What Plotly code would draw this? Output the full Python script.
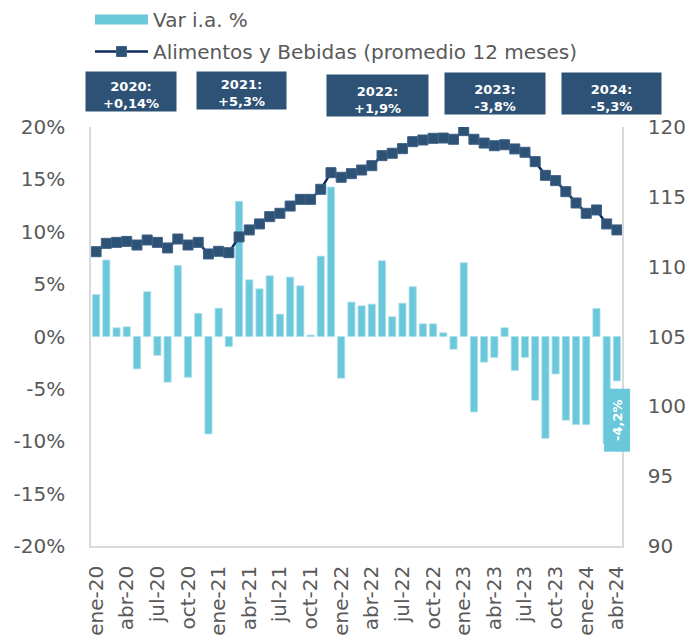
import plotly.graph_objects as go

month_names = ["ene", "feb", "mar", "abr", "may", "jun", "jul", "ago", "sep", "oct", "nov", "dic"]
years = ["20", "21", "22", "23", "24"]
months = [f"{m}-{y}" for y in years for m in month_names][:52]

var_ia = [4.0, 7.3, 0.83, 0.92, -3.09, 4.27, -1.8, -4.36, 6.78, -3.89, 2.2, -9.3,
          2.7, -0.96, 12.9, 5.41, 4.55, 5.8, 2.13, 5.67, 4.84, 0.13, 7.67, 14.27,
          -3.98, 3.28, 2.93, 3.09, 7.23, 1.88, 3.18, 4.75, 1.21, 1.21, 0.35, -1.21,
          7.04, -7.2, -2.45, -2.0, 0.83, -3.25, -2.0, -6.08, -9.71, -3.57, -7.99, -8.41,
          -8.41, 2.68, -10.2, -4.24]

alimentos = [111.07, 111.67, 111.74, 111.81, 111.55, 111.91, 111.74, 111.34, 111.98, 111.55, 111.74, 110.91,
             111.10, 111.00, 112.13, 112.63, 113.06, 113.58, 113.82, 114.34, 114.82, 114.82, 115.54, 116.73,
             116.40, 116.66, 116.92, 117.23, 117.95, 118.12, 118.45, 118.95, 119.07, 119.19, 119.21, 119.12,
             119.74, 119.12, 118.85, 118.66, 118.73, 118.43, 118.19, 117.52, 116.54, 116.16, 115.37, 114.56,
             113.82, 114.06, 113.06, 112.63]

x_tickvals = months[::3]
y_tickvals = [-20, -15, -10, -5, 0, 5, 10, 15, 20]
y_ticktext = ["-20%", "-15%", "-10%", "-5%", "0%", "5%", "10%", "15%", "20%"]
y2_tickvals = [90, 95, 100, 105, 110, 115, 120]

year_labels = ["2020:<br>+0,14%", "2021:<br>+5,3%", "2022:<br>+1,9%", "2023:<br>-3,8%", "2024:<br>-5,3%"]
last_label = "-4,2%"

BAR = "#6BC8DA"
BOX = "#2D5276"
LINE = "#0D2B5E"
GRAY = "#595959"
AXIS = "#D9D9D9"
FONT = "DejaVu Sans"

fig = go.Figure()
fig.add_trace(go.Bar(x=months, y=var_ia, name="Var i.a. %",
                     marker=dict(color=BAR, line=dict(color="#A9E0EB", width=0.8)),
                     showlegend=False))
# legend entry for the bars, drawn as a wide swatch
fig.add_trace(go.Scatter(x=[None], y=[None], name="Var i.a. %", mode="lines",
                         line=dict(color=BAR, width=14), legend="legend"))
fig.add_trace(go.Scatter(x=months, y=alimentos, name="Alimentos y Bebidas (promedio 12 meses)",
                         yaxis="y2", mode="lines+markers",
                         line=dict(color=LINE, width=2.5),
                         marker=dict(symbol="square", size=10, color=BOX,
                                     line=dict(color="#3E6286", width=1)),
                         legend="legend2"))

W, H = 685, 635
L, T = 91, 127
R = W - 622
B = H - 546
pw, ph = W - L - R, H - T - B

def px(xp):
    return (xp - L) / pw

def py(yp):
    return (H - B - yp) / ph

boxes = [(131, 91.5, 90, 39), (241, 90.5, 89, 37), (377.5, 95.5, 101, 41),
         (495, 93.5, 100, 41), (611.5, 93.5, 99, 41)]
annotations = []
for (cx, cy, w, h), txt in zip(boxes, year_labels):
    annotations.append(dict(
        text=f"<b>{txt}</b>", xref="paper", yref="paper", x=px(cx), y=py(cy),
        xanchor="center", yanchor="middle", showarrow=False,
        width=w, height=h, bgcolor=BOX, borderpad=0, valign="bottom",
        font=dict(family=FONT, size=13, color="white")))

annotations.append(dict(
    text=f"<b>{last_label}</b>", xref="x", yref="y", x=months[-1], y=-8.0,
    xanchor="center", yanchor="middle", showarrow=False, textangle=-90,
    width=62, height=25, bgcolor=BAR, borderpad=0,
    font=dict(family=FONT, size=13, color="white")))

fig.update_layout(
    width=W, height=H,
    margin=dict(l=L, r=R, t=T, b=B, autoexpand=False),
    paper_bgcolor="white", plot_bgcolor="white",
    font=dict(family=FONT, color=GRAY, size=20),
    bargap=0.3,
    showlegend=True,
    legend=dict(xref="container", yref="container", x=90 / W, y=1.0,
                xanchor="left", yanchor="top", font=dict(size=20, color=GRAY),
                bgcolor="rgba(0,0,0,0)", itemwidth=53),
    legend2=dict(xref="container", yref="container", x=90 / W, y=1 - 32 / H,
                 xanchor="left", yanchor="top", font=dict(size=20, color=GRAY),
                 bgcolor="rgba(0,0,0,0)", itemwidth=53),
    xaxis=dict(type="category", tickvals=x_tickvals, ticktext=x_tickvals,
               tickangle=-90, tickfont=dict(size=20, color=GRAY),
               showline=True, linecolor=AXIS, linewidth=1.5, ticks="",
               showgrid=False, zeroline=False, automargin=False,
               range=[-0.5, len(months) - 0.5], ticklabelstandoff=10),
    yaxis=dict(range=[-20, 20], tickvals=y_tickvals, ticktext=y_ticktext,
               tickfont=dict(size=20, color=GRAY), showgrid=False, zeroline=False,
               showline=True, linecolor=AXIS, linewidth=1.5, ticks="",
               automargin=False, ticklabelstandoff=20),
    yaxis2=dict(range=[90, 120], tickvals=y2_tickvals, overlaying="y", side="right",
                tickfont=dict(size=20, color=GRAY), showgrid=False, zeroline=False,
                showline=True, linecolor=AXIS, linewidth=1.5, ticks="",
                automargin=False, ticklabelstandoff=20),
    annotations=annotations,
)

fig.write_html(
    "out.html",
    config={"displayModeBar": False},
    post_script="document.body.style.margin='0';document.body.style.overflow='hidden';"
                "document.documentElement.style.overflow='hidden';",
)
